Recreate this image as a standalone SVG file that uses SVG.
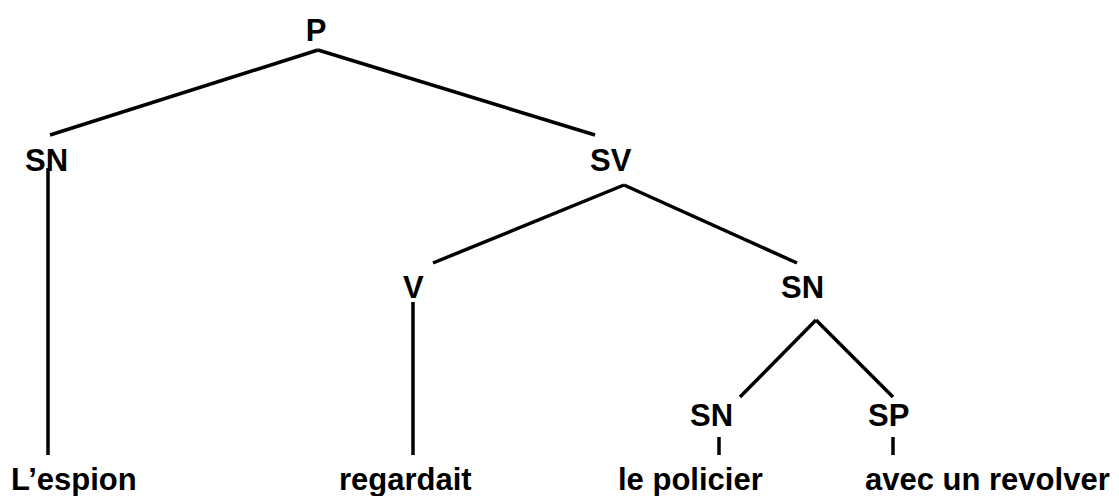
<svg xmlns="http://www.w3.org/2000/svg" width="1119" height="496" viewBox="0 0 1119 496">
<style>
text { font-family: "Liberation Sans", Arial, sans-serif; font-weight: bold; font-size: 31px; fill: #000; }
line { stroke: #000; stroke-width: 3.5; }
</style>
<rect width="1119" height="496" fill="#fff"/>
<g id="connectors">
<line x1="318" y1="50" x2="50" y2="135"/>
<line x1="318" y1="50" x2="595" y2="135"/>
<line x1="48" y1="168" x2="48" y2="455"/>
<line x1="624" y1="185" x2="433" y2="263"/>
<line x1="624" y1="185" x2="797" y2="263"/>
<line x1="413" y1="302" x2="413" y2="455"/>
<line x1="816" y1="320" x2="740" y2="397"/>
<line x1="816" y1="320" x2="893" y2="397"/>
<line x1="719" y1="437" x2="719" y2="455"/>
<line x1="893" y1="437" x2="893" y2="455"/>
</g>
<g id="n-P"><text x="316" y="41" text-anchor="middle">P</text></g>
<g id="n-SN1"><text x="25" y="171">SN</text></g>
<g id="n-SV"><text x="590" y="171">SV</text></g>
<g id="n-V"><text x="403" y="298">V</text></g>
<g id="n-SN2"><text x="781" y="298">SN</text></g>
<g id="n-SN3"><text x="690" y="426">SN</text></g>
<g id="n-SP"><text x="868" y="426">SP</text></g>
<g id="w-espion"><text x="11" y="490">L’espion</text></g>
<g id="w-regardait"><text x="339" y="490">regardait</text></g>
<g id="w-policier"><text x="618" y="490">le policier</text></g>
<g id="w-revolver"><text x="865" y="490">avec un revolver</text></g>
</svg>
